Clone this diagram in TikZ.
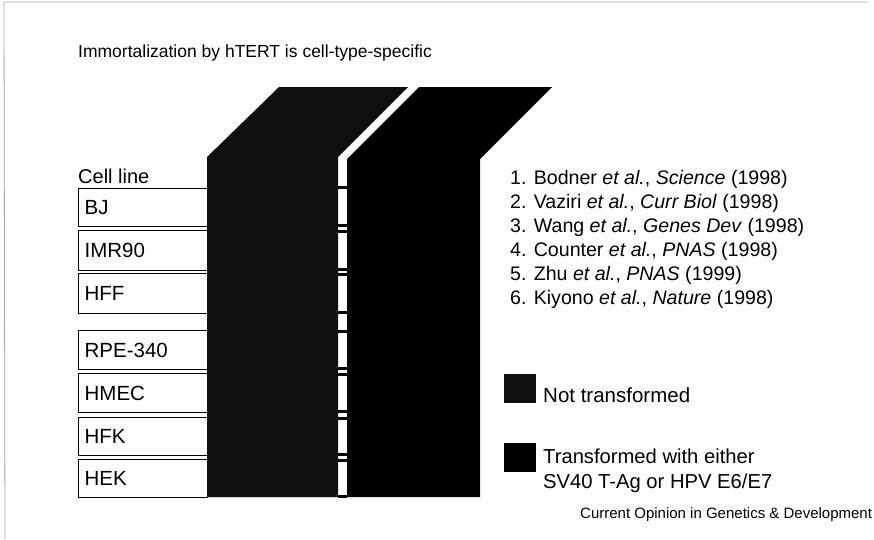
\documentclass[tikz,border=0pt]{standalone}
\usepackage{fontspec}
\setmainfont{Liberation Sans}
\definecolor{nottrans}{gray}{0.06}
\definecolor{trans}{gray}{0.0}
\begin{document}
\begin{tikzpicture}[x=1pt,y=-1pt,
  txt/.style={font=\fontsize{20}{24}\selectfont, inner sep=0pt, anchor=base west},
  cellbox/.style={draw=black, line width=1.3pt, anchor=north west, minimum width=129pt,
    minimum height=38pt, inner xsep=6pt, text width=117pt, align=left,
    font=\fontsize{20.5}{24}\selectfont},
  legsq/.style={anchor=north west, minimum width=32pt, minimum height=29pt, inner sep=0pt},
  tick/.style={line width=3pt, black},
  frameline/.style={gray!70, line width=0.8pt}]
\useasboundingbox (0,0) rectangle (874,539);
\fill[white] (0,0) rectangle (874,539);
% frame
\coordinate (f1) at (5,539);
\coordinate (f2) at (4,2);
\coordinate (f3) at (868,2);
\draw[frameline] (f1) -- (f2) -- (f3);
% title
\node[txt, font=\fontsize{17.5}{21}\selectfont] (title) at (78,57) {Immortalization by hTERT is cell-type-specific};
% cell line header
\node[txt] (hdr) at (78,183) {Cell line};
% cell boxes
\node[cellbox] (bj) at (78,188) {BJ};
\node[cellbox, minimum height=40pt] (imr) at (78,230) {IMR90};
\node[cellbox, minimum height=40pt] (hff) at (78,273) {HFF};
\node[cellbox, minimum height=39pt] (rpe) at (78,330) {RPE-340};
\node[cellbox, minimum height=39pt] (hmec) at (78,373) {HMEC};
\node[cellbox] (hfk) at (78,417) {HFK};
\node[cellbox] (hek) at (78,459) {HEK};
% columns
\fill[nottrans] (207,157) -- (279,87) -- (408,87) -- (338,157) -- (338,497) -- (207,497) -- cycle;
\fill[trans] (347,159) -- (419,87) -- (552,87) -- (480,159) -- (480,497) -- (347,497) -- cycle;
% ticks across the gap at row borders
\foreach \yy in {187,225,231,269,274,312,331,368,374,411,418,454,460,496}
  \draw[tick] (338,\yy) -- (347,\yy);
% references
\node[txt, font=\fontsize{19.6}{24}\selectfont] (r1) at (510,184) {1. Bodner \textit{et al.}, \textit{Science} (1998)};
\node[txt, font=\fontsize{19.6}{24}\selectfont] (r2) at (510,208) {2. Vaziri \textit{et al.}, \textit{Curr Biol} (1998)};
\node[txt, font=\fontsize{19.6}{24}\selectfont] (r3) at (510,232) {3. Wang \textit{et al.}, \textit{Genes Dev} (1998)};
\node[txt, font=\fontsize{19.6}{24}\selectfont] (r4) at (510,256) {4. Counter \textit{et al.}, \textit{PNAS} (1998)};
\node[txt, font=\fontsize{19.6}{24}\selectfont] (r5) at (510,280) {5. Zhu \textit{et al.}, \textit{PNAS} (1999)};
\node[txt, font=\fontsize{19.6}{24}\selectfont] (r6) at (510,304) {6. Kiyono \textit{et al.}, \textit{Nature} (1998)};
% legend
\node[legsq, fill=nottrans] (sq1) at (504,374) {};
\node[txt, font=\fontsize{20.5}{25}\selectfont] (l1) at (543,402) {Not transformed};
\node[legsq, fill=trans] (sq2) at (504,443) {};
\node[txt, font=\fontsize{20.2}{25}\selectfont] (l2) at (543,463) {Transformed with either};
\node[txt, font=\fontsize{20.2}{25}\selectfont] (l3) at (543,488) {SV40 T-Ag or HPV E6/E7};
% source
\node[txt, font=\fontsize{15}{18}\selectfont] (src) at (580,518) {Current Opinion in Genetics \& Development};
\end{tikzpicture}
\end{document}
